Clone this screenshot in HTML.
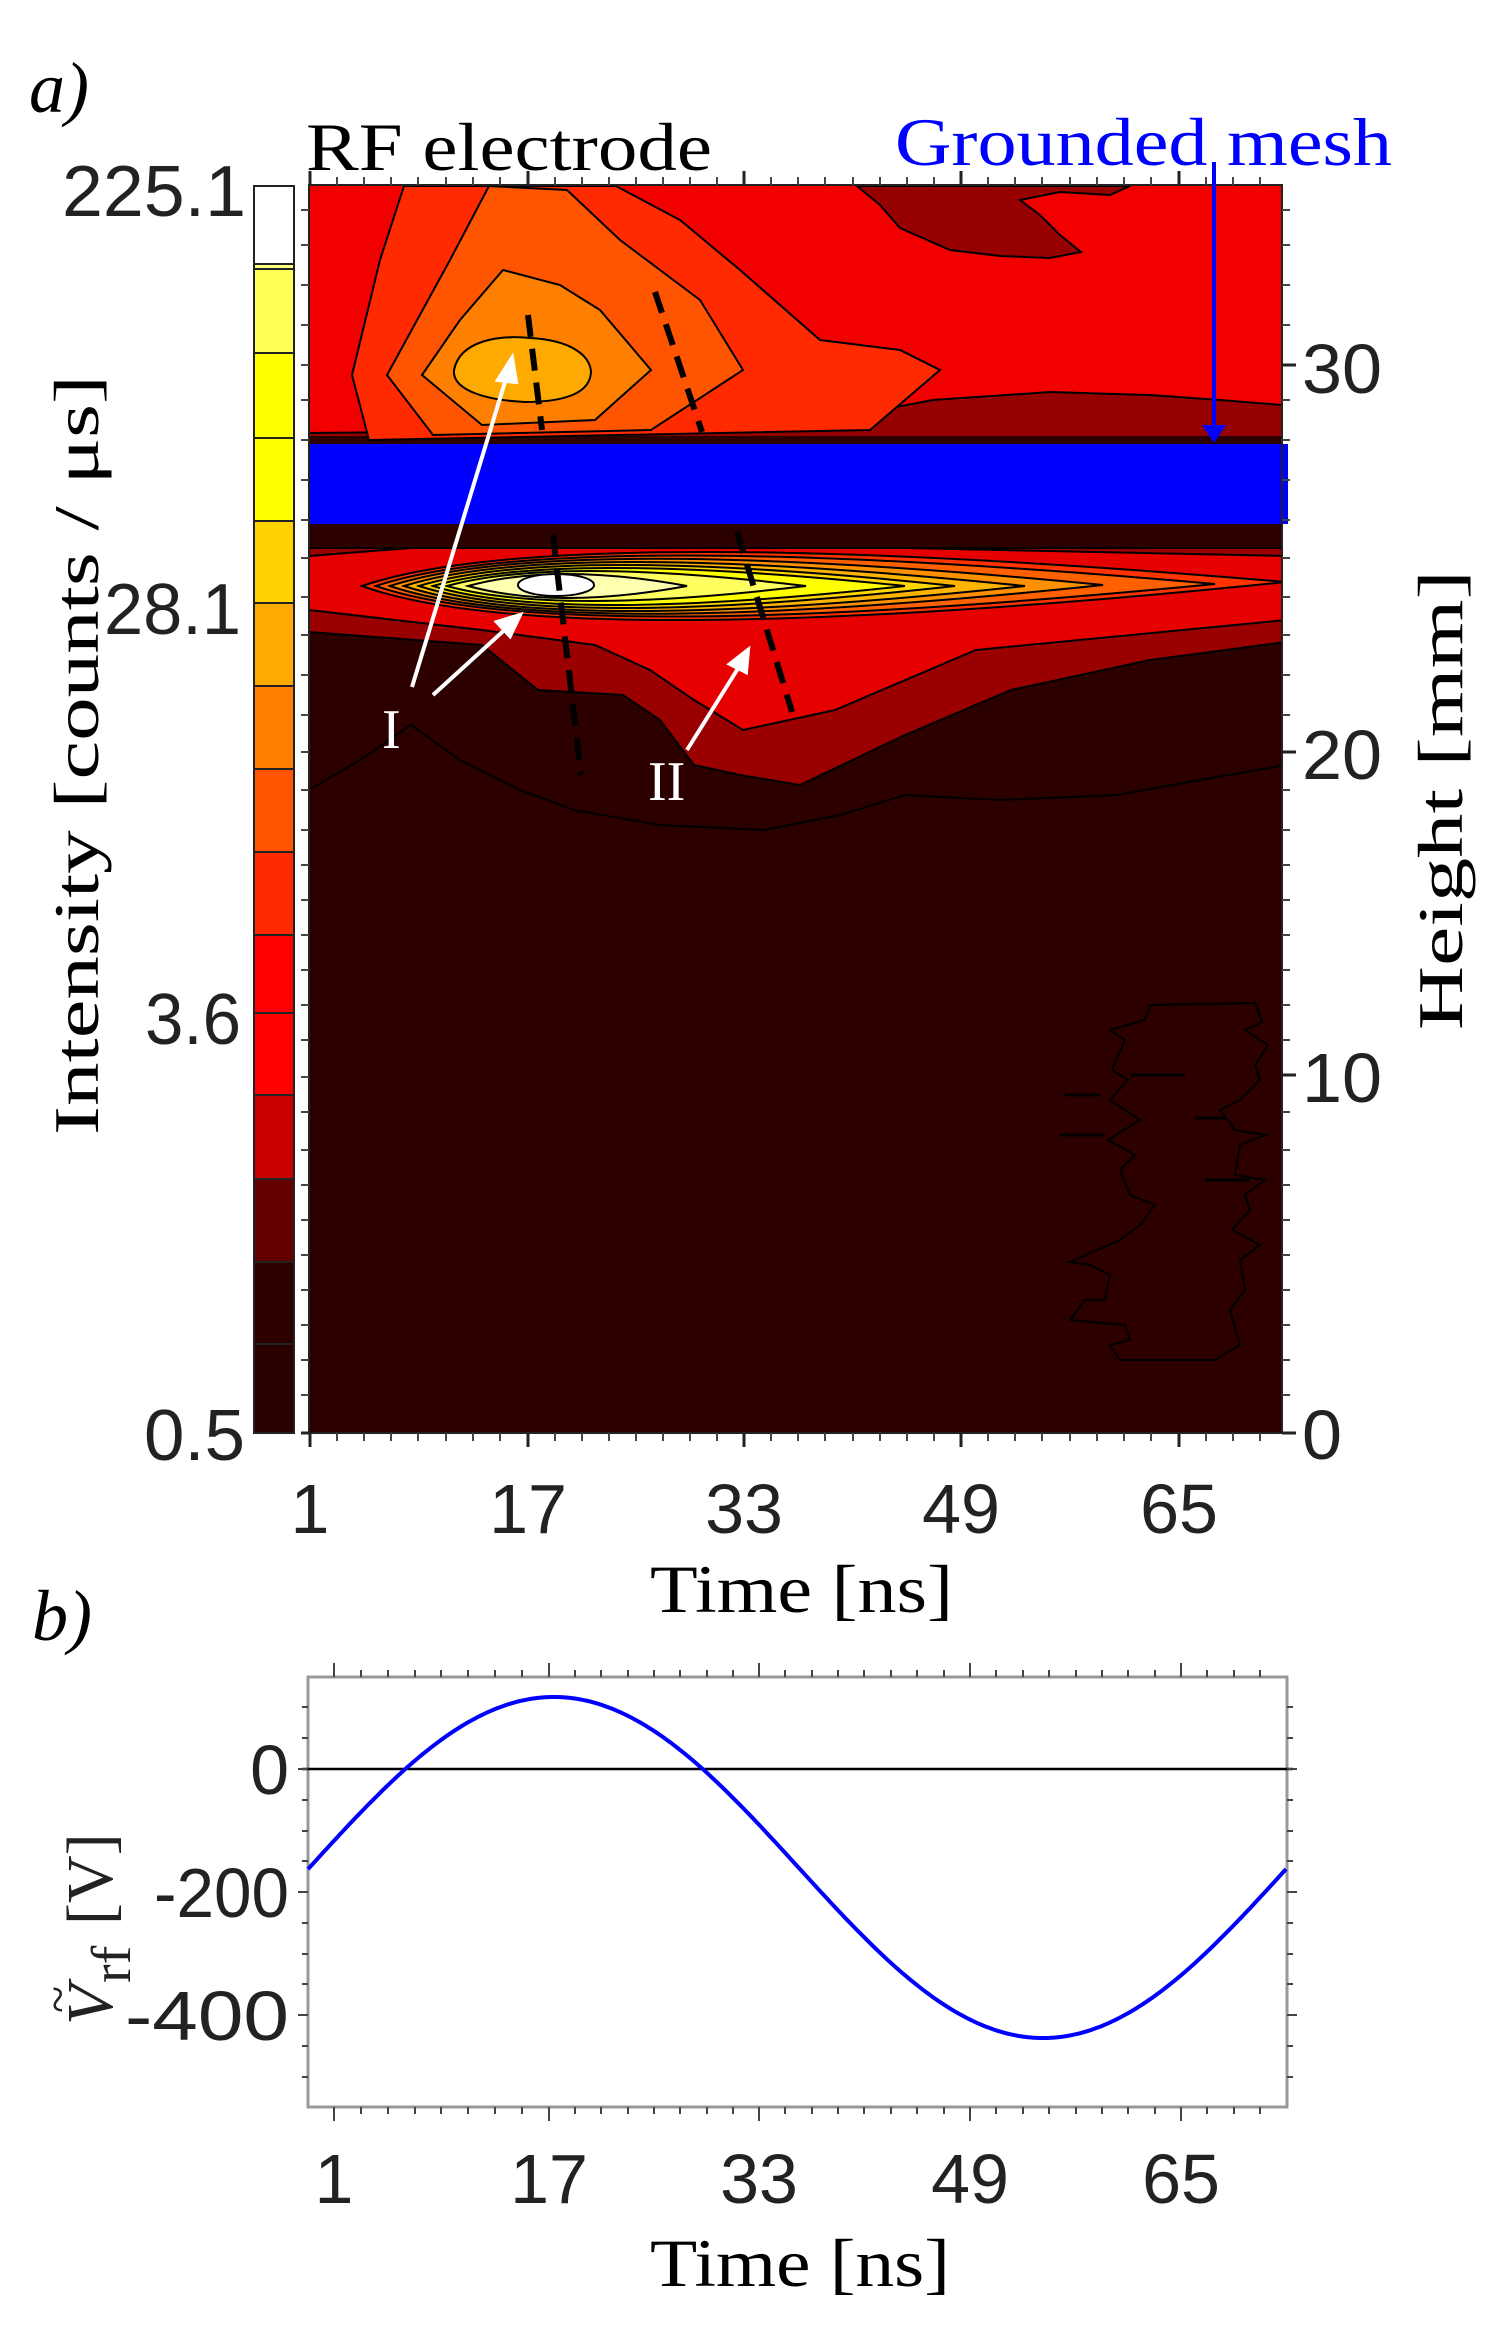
<!DOCTYPE html>
<html><head><meta charset="utf-8"><style>html,body{margin:0;padding:0;background:#fff}svg{display:block}</style></head>
<body>
<svg width="1502" height="2331" viewBox="0 0 1502 2331" xmlns="http://www.w3.org/2000/svg">
<defs><clipPath id="pa"><rect x="309" y="185" width="973" height="1248"/></clipPath></defs>
<text x="29" y="112" font-family="Liberation Serif" font-style="italic" font-size="72">a)</text>
<text x="306" y="170" font-family="Liberation Serif" font-size="68" textLength="406" lengthAdjust="spacingAndGlyphs">RF  electrode</text>
<text x="895" y="165" font-family="Liberation Serif" font-size="68" fill="#0000ff" textLength="497" lengthAdjust="spacingAndGlyphs">Grounded mesh</text>
<g stroke="#222" stroke-width="2">
<rect x="254" y="186" width="40" height="78" fill="#fff"/>
<rect x="254" y="264" width="40" height="5" fill="#ffff80"/>
<rect x="254" y="269" width="40" height="84" fill="#ffff55"/>
<rect x="254" y="353" width="40" height="85" fill="#ffff00"/>
<rect x="254" y="438" width="40" height="83" fill="#ffff00"/>
<rect x="254" y="521" width="40" height="82" fill="#ffd200"/>
<rect x="254" y="603" width="40" height="83" fill="#ffaa00"/>
<rect x="254" y="686" width="40" height="83" fill="#ff8000"/>
<rect x="254" y="769" width="40" height="83" fill="#ff5500"/>
<rect x="254" y="852" width="40" height="83" fill="#ff2a00"/>
<rect x="254" y="935" width="40" height="78" fill="#ff0000"/>
<rect x="254" y="1013" width="40" height="82" fill="#ff0000"/>
<rect x="254" y="1095" width="40" height="84" fill="#c80000"/>
<rect x="254" y="1179" width="40" height="83" fill="#640000"/>
<rect x="254" y="1262" width="40" height="82" fill="#2d0000"/>
<rect x="254" y="1344" width="40" height="89" fill="#2a0000"/>
</g>
<g font-family="Liberation Sans" font-size="72" fill="#222" text-anchor="end">
<text x="246" y="216" textLength="184" lengthAdjust="spacingAndGlyphs">225.1</text>
<text x="241" y="634" textLength="137" lengthAdjust="spacingAndGlyphs">28.1</text>
<text x="241" y="1044" textLength="96" lengthAdjust="spacingAndGlyphs">3.6</text>
<text x="245" y="1460" textLength="101" lengthAdjust="spacingAndGlyphs">0.5</text>
</g>
<text transform="translate(98,755) rotate(-90)" font-family="Liberation Serif" font-size="64" text-anchor="middle" textLength="760" lengthAdjust="spacingAndGlyphs">Intensity [counts / μs]</text>
<text transform="translate(1462,800) rotate(-90)" font-family="Liberation Serif" font-size="64" text-anchor="middle" textLength="460" lengthAdjust="spacingAndGlyphs">Height [mm]</text>
<g clip-path="url(#pa)">
<rect x="309" y="185" width="973" height="1248" fill="#2d0000"/>
<rect x="309" y="185" width="973" height="260" fill="#f20000"/>
<path d="M857,186 L880,205 L900,228 L950,250 L1000,256 L1050,258 L1081,252 L1060,235 L1040,215 L1020,200 L1060,192 L1110,195 L1130,186 Z" fill="#960000" stroke="#000" stroke-width="2"/>
<path d="M309,433 L600,430 L800,425 L933,400 L1050,392 L1150,395 L1220,400 L1282,405 L1282,445 L309,445 Z" fill="#960000" stroke="#000" stroke-width="2"/>
<path d="M309,436 L1282,436 L1282,445 L309,445Z" fill="#2d0000"/>
<path d="M404,186 L380,260 L352,375 L369,440 L870,430 L940,370 L900,350 L820,340 L740,270 L680,220 L616,186 Z" fill="#ff2a00" stroke="#000" stroke-width="2"/>
<path d="M489,186 L450,260 L387,375 L433,435 L651,430 L743,370 L700,300 L620,240 L567,190 Z" fill="#ff5500" stroke="#000" stroke-width="2"/>
<path d="M503,270 L460,320 L422,375 L482,425 L595,420 L651,370 L600,310 L560,285 Z" fill="#ff8000" stroke="#000" stroke-width="2"/>
<path d="M454,370 C460,340 500,335 530,338 C570,340 590,355 591,372 C590,395 560,402 525,402 C485,400 452,390 454,370 Z" fill="#ffaa00" stroke="#000" stroke-width="2"/>
<path d="M309,790 L360,760 L411,725 L460,760 L520,790 L574,810 L660,825 L764,830 L840,815 L905,795 L1000,800 L1117,795 L1200,780 L1286,765" fill="none" stroke="#000" stroke-width="2"/>
<path d="M309,548 L1286,548 L1286,642 L1150,660 L1011,690 L905,735 L800,785 L740,775 L694,765 L660,720 L623,695 L538,690 L482,645 L309,632 Z" fill="#9a0000" stroke="#000" stroke-width="2"/>
<path d="M309,556 L411,548 L905,548 L1286,556 L1286,620 L976,650 L835,710 L743,730 L694,700 L650,670 L595,645 L482,630 L309,610 Z" fill="#e60000" stroke="#000" stroke-width="2"/>
<g stroke="#000" stroke-width="2">
<path d="M362,586 Q556,520 1286,582 Q556,656 362,586Z" fill="#ff3300"/>
<path d="M376,586 Q556,526 1215,584 Q556,648 376,586Z" fill="#ff6000"/>
<path d="M390,586 Q556,532 1103,585 Q556,642 390,586Z" fill="#ff9000"/>
<path d="M404,586 Q556,538 1025,586 Q556,636 404,586Z" fill="#ffb400"/>
<path d="M419,586 Q556,544 955,586 Q556,630 419,586Z" fill="#ffd800"/>
<path d="M433,586 Q556,550 905,586 Q556,624 433,586Z" fill="#ffff00"/>
<path d="M447,586 Q556,556 806,586 Q556,616 447,586Z" fill="#ffff60"/>
<path d="M468,586 Q556,562 687,586 Q556,610 468,586Z" fill="#ffffb0"/>
<ellipse cx="556" cy="585" rx="38" ry="11" fill="#fff"/>
</g>
<path d="M309,524 H1282 V540 H309Z" fill="#2d0000"/>
<path d="M1150,1005 L1255,1003 L1262,1022 L1245,1030 L1268,1045 L1255,1065 L1260,1080 L1240,1100 L1220,1110 L1235,1130 L1265,1135 L1240,1145 L1235,1175 L1265,1180 L1245,1195 L1250,1210 L1232,1230 L1260,1245 L1240,1260 L1245,1290 L1230,1310 L1240,1345 L1215,1360 L1120,1360 L1110,1345 L1130,1340 L1125,1325 L1070,1320 L1085,1300 L1105,1300 L1110,1275 L1090,1265 L1070,1262 L1120,1240 L1140,1225 L1155,1205 L1130,1195 L1120,1170 L1135,1155 L1108,1140 L1140,1120 L1110,1100 L1128,1080 L1112,1070 L1125,1040 L1110,1030 L1145,1020 Z" fill="none" stroke="#000" stroke-width="2"/>
<path d="M1065,1095 H1100 M1060,1135 H1105 M1130,1075 H1185 M1195,1118 H1225 M1205,1180 H1250" stroke="#000" stroke-width="3"/>
<g stroke="#000" stroke-width="6" stroke-dasharray="22 12" fill="none">
<path d="M528,315 L542,430"/>
<path d="M553,535 L581,775"/>
<path d="M655,292 L702,432"/>
<path d="M737,532 L792,712"/>
</g>
<rect x="309" y="444" width="980" height="80" fill="#0000ff"/>
</g>
<rect x="1282" y="444" width="6" height="80" fill="#0000ff"/>
<rect x="309" y="185" width="973" height="1248" fill="none" stroke="#222" stroke-width="2"/>
<g stroke="#fff" stroke-width="4" fill="#fff">
<line x1="412" y1="687" x2="508" y2="372"/>
<path d="M512,358 L498,380 L516,382Z"/>
<line x1="433" y1="695" x2="510" y2="625"/>
<path d="M520,615 L497,622 L510,636Z"/>
<line x1="687" y1="750" x2="742" y2="662"/>
<path d="M748,650 L730,664 L746,672Z"/>
</g>
<text x="382" y="748" font-family="Liberation Serif" font-size="56" fill="#fff">I</text>
<text x="648" y="800" font-family="Liberation Serif" font-size="56" fill="#fff">II</text>
<line x1="1214" y1="162" x2="1214" y2="432" stroke="#0000ff" stroke-width="4"/>
<path d="M1202,425 L1214,443 L1226,425Z" fill="#0000ff"/>
<g stroke="#222" stroke-width="3">
<path d="M310,185v-14 M528,185v-14 M744,185v-14 M961,185v-14 M1179,185v-14 M310,1433v14 M528,1433v14 M744,1433v14 M961,1433v14 M1179,1433v14"/>
<path d="M1282,1433h14 M1282,1075h14 M1282,752h14 M1282,365h14 M309,1433h-8"/>
</g>
<g stroke="#444" stroke-width="2">
<path d="M337,185v-8 M364,185v-8 M391,185v-8 M418,185v-8 M446,185v-8 M473,185v-8 M500,185v-8 M555,185v-8 M582,185v-8 M609,185v-8 M636,185v-8 M663,185v-8 M690,185v-8 M717,185v-8 M771,185v-8 M798,185v-8 M825,185v-8 M853,185v-8 M880,185v-8 M907,185v-8 M934,185v-8 M988,185v-8 M1015,185v-8 M1042,185v-8 M1070,185v-8 M1097,185v-8 M1124,185v-8 M1151,185v-8 M1206,185v-8 M1233,185v-8 M1260,185v-8"/>
<path d="M337,1433v8 M364,1433v8 M391,1433v8 M418,1433v8 M446,1433v8 M473,1433v8 M500,1433v8 M555,1433v8 M582,1433v8 M609,1433v8 M636,1433v8 M663,1433v8 M690,1433v8 M717,1433v8 M771,1433v8 M798,1433v8 M825,1433v8 M853,1433v8 M880,1433v8 M907,1433v8 M934,1433v8 M988,1433v8 M1015,1433v8 M1042,1433v8 M1070,1433v8 M1097,1433v8 M1124,1433v8 M1151,1433v8 M1206,1433v8 M1233,1433v8 M1260,1433v8"/>
<path d="M1282,1395h8 M1282,1360h8 M1282,1325h8 M1282,1290h8 M1282,1255h8 M1282,1220h8 M1282,1185h8 M1282,1150h8 M1282,1112h8 M1282,1040h8 M1282,1005h8 M1282,970h8 M1282,935h8 M1282,900h8 M1282,865h8 M1282,830h8 M1282,790h8 M1282,715h8 M1282,675h8 M1282,635h8 M1282,597h8 M1282,558h8 M1282,520h8 M1282,480h8 M1282,440h8 M1282,400h8 M1282,325h8 M1282,285h8 M1282,245h8 M1282,210h8"/>
<path d="M309,1395h-8 M309,1360h-8 M309,1325h-8 M309,1290h-8 M309,1255h-8 M309,1220h-8 M309,1185h-8 M309,1150h-8 M309,1112h-8 M309,1077h-8 M309,1040h-8 M309,1005h-8 M309,970h-8 M309,935h-8 M309,900h-8 M309,865h-8 M309,830h-8 M309,790h-8 M309,752h-8 M309,715h-8 M309,675h-8 M309,635h-8 M309,597h-8 M309,558h-8 M309,520h-8 M309,480h-8 M309,440h-8 M309,400h-8 M309,365h-8 M309,325h-8 M309,285h-8 M309,245h-8 M309,210h-8"/>
</g>
<g font-family="Liberation Sans" font-size="70" fill="#222">
<text x="1302" y="393" textLength="80" lengthAdjust="spacingAndGlyphs">30</text>
<text x="1302" y="779" textLength="80" lengthAdjust="spacingAndGlyphs">20</text>
<text x="1302" y="1102" textLength="80" lengthAdjust="spacingAndGlyphs">10</text>
<text x="1302" y="1459" textLength="40" lengthAdjust="spacingAndGlyphs">0</text>
</g>
<g font-family="Liberation Sans" font-size="70" fill="#222" text-anchor="middle">
<text x="310" y="1533">1</text><text x="528" y="1533">17</text><text x="744" y="1533">33</text><text x="961" y="1533">49</text><text x="1179" y="1533">65</text>
</g>
<text x="650" y="1612" font-family="Liberation Serif" font-size="68" textLength="303" lengthAdjust="spacingAndGlyphs">Time [ns]</text>
<text x="32" y="1640" font-family="Liberation Serif" font-style="italic" font-size="72">b)</text>
<rect x="308" y="1677" width="979" height="430" fill="#fff" stroke="#999" stroke-width="3"/>
<line x1="302" y1="1769" x2="1293" y2="1769" stroke="#000" stroke-width="2.5"/>
<path id="sine" fill="none" stroke="#0000ff" stroke-width="4" d=""/>
<g stroke="#444" stroke-width="2">
<path d="M334,1677v-14 M549,1677v-14 M759,1677v-14 M970,1677v-14 M1181,1677v-14 M334,2107v14 M549,2107v14 M759,2107v14 M970,2107v14 M1181,2107v14"/>
<path d="M361,1677v-7 M388,1677v-7 M415,1677v-7 M441,1677v-7 M468,1677v-7 M495,1677v-7 M522,1677v-7 M575,1677v-7 M601,1677v-7 M628,1677v-7 M654,1677v-7 M680,1677v-7 M707,1677v-7 M733,1677v-7 M785,1677v-7 M812,1677v-7 M838,1677v-7 M864,1677v-7 M891,1677v-7 M917,1677v-7 M944,1677v-7 M996,1677v-7 M1023,1677v-7 M1049,1677v-7 M1076,1677v-7 M1102,1677v-7 M1128,1677v-7 M1155,1677v-7 M1207,1677v-7 M1234,1677v-7 M1260,1677v-7"/>
<path d="M361,2107v7 M388,2107v7 M415,2107v7 M441,2107v7 M468,2107v7 M495,2107v7 M522,2107v7 M575,2107v7 M601,2107v7 M628,2107v7 M654,2107v7 M680,2107v7 M707,2107v7 M733,2107v7 M785,2107v7 M812,2107v7 M838,2107v7 M864,2107v7 M891,2107v7 M917,2107v7 M944,2107v7 M996,2107v7 M1023,2107v7 M1049,2107v7 M1076,2107v7 M1102,2107v7 M1128,2107v7 M1155,2107v7 M1207,2107v7 M1234,2107v7 M1260,2107v7"/>
<path d="M308,1769h-10 M308,1892h-10 M308,2015h-10 M1287,1769h10 M1287,1892h10 M1287,2015h10"/>
<path d="M308,1707h-6 M308,1738h-6 M308,1800h-6 M308,1831h-6 M308,1861h-6 M308,1923h-6 M308,1954h-6 M308,1984h-6 M308,2046h-6 M308,2077h-6 M1287,1707h6 M1287,1738h6 M1287,1800h6 M1287,1831h6 M1287,1861h6 M1287,1923h6 M1287,1954h6 M1287,1984h6 M1287,2046h6 M1287,2077h6"/>
</g>
<g font-family="Liberation Sans" font-size="70" fill="#222" text-anchor="end">
<text x="289" y="1794">0</text>
<text x="289" y="1917" textLength="135" lengthAdjust="spacingAndGlyphs">-200</text>
<text x="289" y="2040" textLength="164" lengthAdjust="spacingAndGlyphs">-400</text>
</g>
<g font-family="Liberation Sans" font-size="70" fill="#222" text-anchor="middle">
<text x="334" y="2203">1</text><text x="549" y="2203">17</text><text x="759" y="2203">33</text><text x="970" y="2203">49</text><text x="1181" y="2203">65</text>
</g>
<text x="650" y="2286" font-family="Liberation Serif" font-size="68" textLength="300" lengthAdjust="spacingAndGlyphs">Time [ns]</text>
<g transform="translate(112,2025) rotate(-90)" font-family="Liberation Serif" font-size="66" fill="#222">
<text x="0" y="0" font-style="italic">V</text>
<text x="12" y="-38" font-size="50">~</text>
<text x="42" y="18" font-size="56">rf</text>
<text x="100" y="0">[V]</text>
</g>
<script>
(function(){var d="";for(var x=308;x<=1287;x+=3){var y=1867.5-170.5*Math.cos(2*Math.PI*(x-554)/978);d+=(x==308?"M":"L")+x+","+y.toFixed(1)+" ";}document.getElementById("sine").setAttribute("d",d);})();
</script>
</svg>
</body></html>
